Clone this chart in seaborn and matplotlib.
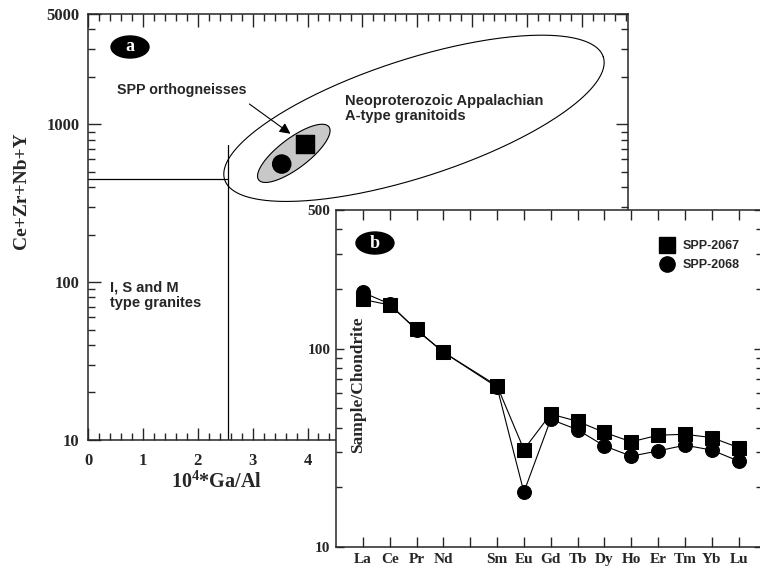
import numpy as np
import pandas as pd
import matplotlib
matplotlib.use("Agg")
import matplotlib.pyplot as plt
import seaborn as sns
from matplotlib.lines import Line2D
from matplotlib.patches import Ellipse
from matplotlib.ticker import MultipleLocator, LogLocator, NullFormatter

# ---- panel a : 10^4*Ga/Al vs Ce+Zr+Nb+Y ----
samples = ["SPP-2067", "SPP-2068"]
sample_markers = ["s", "o"]
ga_al = [3.95, 3.53]
ce_zr_nb_y = [750, 560]

# I, S, M / A-type boundary lines
split_ga_al = 2.55
split_sum = 450
split_top = 740

# fields: centre and two half-axis vectors, in (x, log10 y)
a_type_field = dict(cx=5.94, cy=3.038, ux=3.45, vx=-0.33, uy=0.389, vy=0.355)
spp_field = dict(cx=3.75, cy=2.816, ux=0.64, vx=-0.164, uy=0.168, vy=0.076)

arrow_from = (2.90, 1377)
arrow_to = (3.73, 851)

# ---- panel b : chondrite-normalised REE ----
ree = ["La", "Ce", "Pr", "Nd", "Pm", "Sm", "Eu", "Gd", "Tb", "Dy", "Ho", "Er", "Tm", "Yb", "Lu"]
ree_labels = ["La", "Ce", "Pr", "Nd", "", "Sm", "Eu", "Gd", "Tb", "Dy", "Ho", "Er", "Tm", "Yb", "Lu"]
spp2067 = [177, 166, 125, 96, np.nan, 65, 31, 46.8, 43, 37.8, 33.9, 36.6, 37, 35.6, 31.7]
spp2068 = [192, 168, 124, 96, np.nan, 64, 18.9, 44, 39, 32.3, 28.7, 30.5, 32.6, 30.8, 27.1]

sns.set_style("ticks")
plt.rcParams["font.family"] = ["Liberation Serif", "DejaVu Serif"]
plt.rcParams["font.weight"] = "bold"
plt.rcParams["mathtext.fontset"] = "custom"
plt.rcParams["mathtext.rm"] = "Liberation Serif:bold"
plt.rcParams["mathtext.bf"] = "Liberation Serif:bold"

fig = plt.figure(figsize=(7.6, 5.66), dpi=100)
ax_a = fig.add_axes([0.1158, 0.2226, 0.7105, 0.7527])
ax_b = fig.add_axes([0.4421, 0.0336, 0.5605, 0.5954])
ax_b.set_zorder(3)
ax_b.set_facecolor("white")

# ---------- panel a ----------
pts = pd.DataFrame({"x": ga_al, "y": ce_zr_nb_y, "sample": samples})
ax_a.set_yscale("log")


def field(p, n=300):
    t = np.linspace(0, 2 * np.pi, n)
    x = p["cx"] + p["ux"] * np.cos(t) + p["vx"] * np.sin(t)
    ly = p["cy"] + p["uy"] * np.cos(t) + p["vy"] * np.sin(t)
    return x, 10 ** ly


fx, fy = field(a_type_field)
ax_a.plot(fx, fy, color="black", lw=0.8)
sx, sy = field(spp_field)
ax_a.fill(sx, sy, facecolor="#c8c8c8", edgecolor="black", lw=0.8)

ax_a.plot([0, split_ga_al], [split_sum, split_sum], color="black", lw=0.9)
ax_a.plot([split_ga_al, split_ga_al], [10, split_top], color="black", lw=0.9)

sns.scatterplot(data=pts, x="x", y="y", style="sample", markers=dict(zip(samples, sample_markers)),
                color="black", s=170, edgecolor="black", legend=False, ax=ax_a, zorder=4)

ax_a.annotate("", xy=arrow_to, xytext=arrow_from,
              arrowprops=dict(arrowstyle="-|>", color="black", lw=0.8, mutation_scale=16))

sans = ["Liberation Sans", "DejaVu Sans"]
ax_a.text(0.53, 1641, "SPP orthogneisses", family=sans, fontsize=10.3, fontweight="bold", va="center")
ax_a.text(4.68, 1560, "Neoproterozoic Appalachian\nA-type granitoids", family=sans, fontsize=10.5,
          fontweight="bold", va="top", linespacing=1.15)
ax_a.text(0.40, 102, "I, S and M\ntype granites", family=sans, fontsize=10.5, fontweight="bold",
          va="top", linespacing=1.15)

ax_a.add_patch(Ellipse((0.0778, 0.9225), 38 / 540, 22 / 426, transform=ax_a.transAxes,
                       facecolor="black", edgecolor="black", zorder=5))
ax_a.text(0.0778, 0.9225, "a", transform=ax_a.transAxes, color="white", fontsize=13,
          fontweight="bold", ha="center", va="center", zorder=6)

ax_a.set_xlim(0, 9.84)
ax_a.set_ylim(10, 5000)
ax_a.set_xticks(range(0, 10))
ax_a.set_xticklabels([str(i) for i in range(0, 10)])
ax_a.xaxis.set_minor_locator(MultipleLocator(0.2))
ax_a.set_yticks([10, 100, 1000, 5000])
ax_a.set_yticklabels(["10", "100", "1000", "5000"])
ax_a.yaxis.set_minor_locator(LogLocator(base=10, subs=np.arange(2, 10)))
ax_a.yaxis.set_minor_formatter(NullFormatter())
ax_a.tick_params(which="both", direction="in", top=True, right=True, width=1, labelsize=12)
ax_a.tick_params(which="major", length=9)
ax_a.tick_params(which="minor", length=5)
ax_a.tick_params(axis="x", which="major", pad=9)
ax_a.tick_params(axis="y", which="major", pad=6)
ax_a.set_xlabel("")
ax_a.set_ylabel("")
for s in ax_a.spines.values():
    s.set_linewidth(1.1)

fig.text(22 / 760, 1 - 191 / 566, "Ce+Zr+Nb+Y", rotation=90, ha="center", va="center",
         fontsize=14, fontweight="bold")
fig.text(217 / 760, 1 - 482 / 566, r"10$^{4}$*Ga/Al", ha="center", va="center",
         fontsize=14.5, fontweight="bold")

# ---------- panel b ----------
pos = np.arange(1, len(ree) + 1)
ree_df = pd.DataFrame({
    "pos": np.concatenate([pos, pos]),
    "value": spp2068 + spp2067,
    "sample": ["SPP-2068"] * len(ree) + ["SPP-2067"] * len(ree),
}).dropna()

sns.lineplot(data=ree_df, x="pos", y="value", style="sample", markers={"SPP-2068": "o", "SPP-2067": "s"},
             dashes=False, color="black", lw=0.8, markersize=10, markeredgecolor="black",
             legend=False, ax=ax_b, sort=False)

ax_b.set_yscale("log")
ax_b.set_xlim(0, 15.87)
ax_b.set_ylim(10, 500)
ax_b.set_xticks(pos)
ax_b.set_xticklabels(ree_labels)
ax_b.set_yticks([10, 100, 500])
ax_b.set_yticklabels(["10", "100", "500"])
ax_b.yaxis.set_minor_locator(LogLocator(base=10, subs=np.arange(2, 10)))
ax_b.yaxis.set_minor_formatter(NullFormatter())
ax_b.tick_params(which="both", direction="in", top=True, right=True, width=1, labelsize=11)
ax_b.tick_params(axis="x", which="major", length=7, pad=4)
ax_b.tick_params(axis="y", which="major", length=6, pad=4)
ax_b.tick_params(which="minor", length=4)
ax_b.set_xlabel("")
ax_b.set_ylabel("")
for s in ax_b.spines.values():
    s.set_linewidth(1.1)

ax_b.text(0.0516, 0.481, "Sample/Chondrite", transform=ax_b.transAxes, rotation=90,
          ha="center", va="center", fontsize=12.5, fontweight="bold")
ax_b.add_patch(Ellipse((0.0915, 0.902), 38 / 426, 22 / 337, transform=ax_b.transAxes,
                       facecolor="black", edgecolor="black", zorder=5))
ax_b.text(0.0915, 0.902, "b", transform=ax_b.transAxes, color="white", fontsize=13,
          fontweight="bold", ha="center", va="center", zorder=6)

handles = [Line2D([], [], marker=m, color="black", linestyle="none", markersize=11)
           for m in sample_markers]
ax_b.legend(handles, samples, loc="center left", bbox_to_anchor=(0.763, 0.865), frameon=False,
            handlelength=1.0, handletextpad=0.7, labelspacing=0.55, borderpad=0, borderaxespad=0,
            prop=dict(family=sans, weight="bold", size=9))

fig.savefig("out.png", dpi=100)
